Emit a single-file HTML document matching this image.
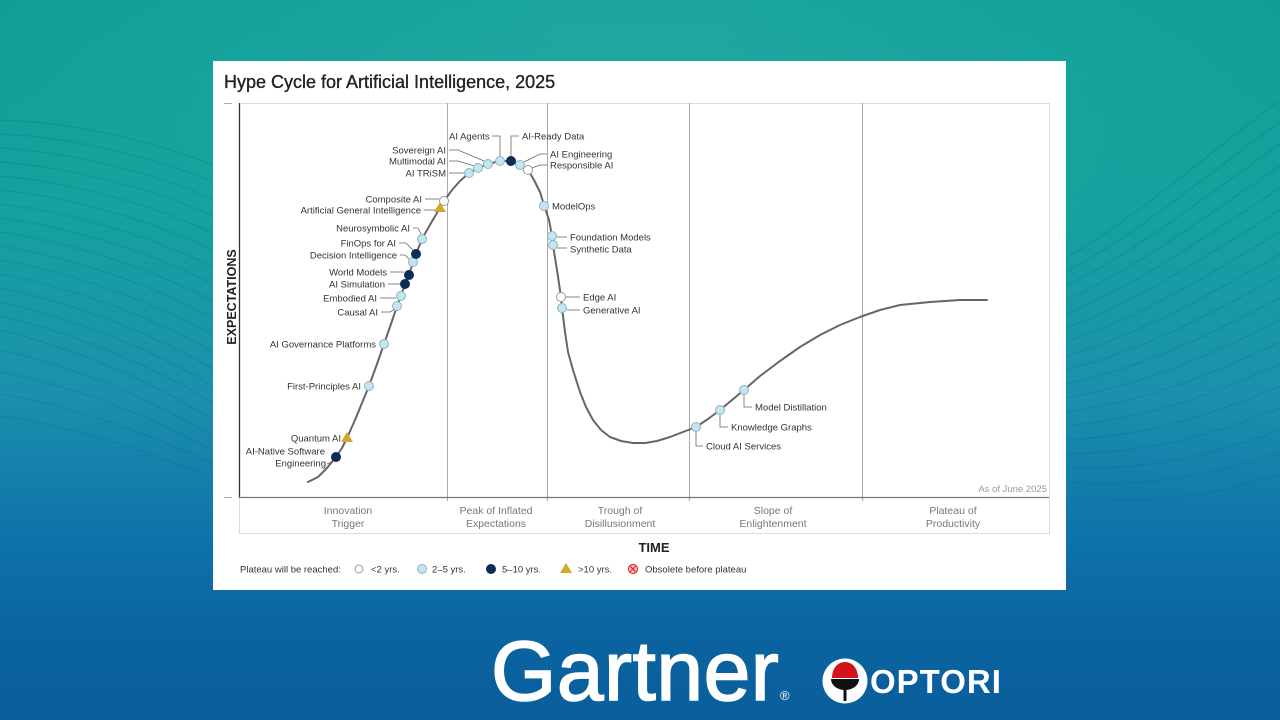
<!DOCTYPE html>
<html>
<head>
<meta charset="utf-8">
<style>
html,body{margin:0;padding:0;width:1280px;height:720px;overflow:hidden;}
svg{display:block;}
text{font-family:"Liberation Sans",Arial,sans-serif;}
.lb{font-size:9.5px;fill:#333;}
.ph{font-size:10.5px;fill:#777;}
.ld{fill:none;stroke:#666;stroke-width:0.8;}
.lt{fill:#c4e4ef;stroke:#8cb5c4;stroke-width:1;}
.dk{fill:#0c2d57;stroke:#0c2d57;stroke-width:1;}
.wh{fill:#fff;stroke:#9a9a9a;stroke-width:1;}
.tr{fill:#d6a62b;}
</style>
</head>
<body>
<svg width="1280" height="720" viewBox="0 0 1280 720" xmlns="http://www.w3.org/2000/svg">
<defs>
<linearGradient id="bg" x1="0" y1="0" x2="0" y2="1">
<stop offset="0" stop-color="#0c9d95"/>
<stop offset="0.3" stop-color="#14a29e"/>
<stop offset="0.55" stop-color="#1b90ad"/>
<stop offset="0.75" stop-color="#0f72aa"/>
<stop offset="0.88" stop-color="#0a64a0"/>
<stop offset="1" stop-color="#0a5e9c"/>
</linearGradient>
<radialGradient id="hl" cx="0.5" cy="0.1" r="0.6">
<stop offset="0" stop-color="#3fbab2" stop-opacity="0.35"/>
<stop offset="1" stop-color="#3fbab2" stop-opacity="0"/>
</radialGradient>
</defs>
<rect x="0" y="0" width="1280" height="720" fill="url(#bg)"/>
<rect x="0" y="0" width="1280" height="400" fill="url(#hl)"/>

<!-- background wave lines left -->
<g fill="none" stroke="#0a5a78" stroke-opacity="0.22" stroke-width="1.1">
<path d="M0,120 C70,122 150,140 213,165"/>
<path d="M0,134 C70,137 150,156 213,182"/>
<path d="M0,148 C70,152 150,172 213,199"/>
<path d="M0,162 C70,167 150,188 213,216"/>
<path d="M0,176 C70,182 150,204 213,233"/>
<path d="M0,190 C70,197 150,220 213,250"/>
<path d="M0,204 C70,212 150,236 213,267"/>
<path d="M0,218 C70,227 150,252 213,284"/>
<path d="M0,232 C70,242 150,268 213,301"/>
<path d="M0,246 C70,257 150,284 213,318"/>
<path d="M0,260 C70,272 150,300 213,335"/>
<path d="M0,274 C70,287 150,316 213,352"/>
<path d="M0,288 C70,302 150,332 213,369"/>
<path d="M0,302 C70,317 150,348 213,386"/>
<path d="M0,316 C70,332 150,364 213,403"/>
<path d="M0,330 C70,347 150,380 213,420"/>
<path d="M0,350 C70,365 150,398 213,436"/>
<path d="M0,372 C70,385 150,416 213,450"/>
<path d="M0,394 C70,405 150,434 213,464"/>
<path d="M0,416 C70,425 150,452 213,478"/>
</g>
<!-- background wave lines right -->
<g fill="none" stroke="#0a5a78" stroke-opacity="0.22" stroke-width="1.1">
<path d="M1066,258 C1140,215 1200,160 1280,100"/>
<path d="M1066,272 C1140,232 1200,180 1280,122"/>
<path d="M1066,286 C1140,249 1200,200 1280,144"/>
<path d="M1066,300 C1140,266 1200,220 1280,166"/>
<path d="M1066,314 C1140,283 1200,240 1280,188"/>
<path d="M1066,328 C1140,300 1200,260 1280,210"/>
<path d="M1066,342 C1140,317 1200,280 1280,232"/>
<path d="M1066,356 C1140,334 1200,300 1280,254"/>
<path d="M1066,370 C1140,351 1200,320 1280,276"/>
<path d="M1066,384 C1140,368 1200,340 1280,298"/>
<path d="M1066,398 C1140,385 1200,360 1280,320"/>
<path d="M1066,412 C1140,402 1200,380 1280,342"/>
<path d="M1066,426 C1140,419 1200,400 1280,364"/>
<path d="M1066,440 C1140,436 1200,420 1280,386"/>
<path d="M1066,454 C1140,453 1200,440 1280,408"/>
<path d="M1066,468 C1140,470 1200,460 1280,430"/>
<path d="M1066,482 C1140,487 1200,480 1280,452"/>
<path d="M1066,496 C1140,504 1200,500 1280,474"/>
</g>

<!-- card -->
<rect x="213" y="61" width="853" height="529" fill="#ffffff"/>

<!-- title -->
<text x="224" y="88" font-size="18" fill="#222" stroke="#222" stroke-width="0.35">Hype Cycle for Artificial Intelligence, 2025</text>

<!-- plot frame -->
<rect x="239.5" y="103.5" width="810" height="430" fill="none" stroke="#dcdcdc" stroke-width="1"/>
<g stroke="#a8a8a8" stroke-width="1">
<line x1="447.5" y1="103" x2="447.5" y2="501"/>
<line x1="547.5" y1="103" x2="547.5" y2="501"/>
<line x1="689.5" y1="103" x2="689.5" y2="501"/>
<line x1="862.5" y1="103" x2="862.5" y2="501"/>
</g>
<line x1="239.5" y1="103" x2="239.5" y2="498" stroke="#333" stroke-width="1.3"/>
<line x1="239" y1="497.5" x2="1049" y2="497.5" stroke="#777" stroke-width="1.3"/>
<line x1="224" y1="103.5" x2="232" y2="103.5" stroke="#aaa" stroke-width="1"/>
<line x1="224" y1="497.5" x2="232" y2="497.5" stroke="#aaa" stroke-width="1"/>

<!-- axis labels -->
<text x="0" y="0" font-size="12.5" font-weight="bold" fill="#222" text-anchor="middle" transform="translate(236,297) rotate(-90)">EXPECTATIONS</text>
<text x="654" y="552" font-size="13" font-weight="bold" fill="#222" text-anchor="middle">TIME</text>

<!-- phase labels -->
<g text-anchor="middle" class="ph">
<text class="ph" x="348" y="514">Innovation</text><text class="ph" x="348" y="527">Trigger</text>
<text class="ph" x="496" y="514">Peak of Inflated</text><text class="ph" x="496" y="527">Expectations</text>
<text class="ph" x="620" y="514">Trough of</text><text class="ph" x="620" y="527">Disillusionment</text>
<text class="ph" x="773" y="514">Slope of</text><text class="ph" x="773" y="527">Enlightenment</text>
<text class="ph" x="953" y="514">Plateau of</text><text class="ph" x="953" y="527">Productivity</text>
</g>
<text x="1047" y="492" font-size="9.5" fill="#999" text-anchor="end">As of June 2025</text>

<!-- curve -->
<polyline fill="none" stroke="#666" stroke-width="2" stroke-linejoin="round" stroke-linecap="round" points="
308,482 318,477 327,468 336,457 342,448 347,438 355,420 362,403 369,386 377,364 384,344 391,324 397,306 401,296 405,284 409,275 413,262 416,254 422,239 431,223 440,208 444,201 452,190 460,181 469,173 478,168 488,164 500,161 511,161 520,165 528,170 534,180 540,192 544,205 549,220 552,236 553,245 557,270 561,297 562,308 565,332 568,352 573,370 580,392 586,407 593,420 601,430 610,437 621,441 633,443 645,443 657,441 670,437 683,432 696,427 708,419 720,410 732,400 744,390 760,376 780,361 800,347 820,335 840,325 860,317 880,310 900,305 930,302 960,300 987,300"/>

<!-- leaders -->
<g class="ld">
<path d="M449,150 H458 L484,161"/>
<path d="M449,161 H458 L474,166"/>
<path d="M449,173 H464"/>
<path d="M492,136 H500 V156"/>
<path d="M519,136 H511 V156"/>
<path d="M547,154 H540 L524,162"/>
<path d="M547,165 H540 L532,168"/>
<path d="M557,237 H567"/>
<path d="M557,248 H567"/>
<path d="M566,297 H580"/>
<path d="M567,310 H580"/>
<path d="M425,199 H439"/>
<path d="M424,210 H435"/>
<path d="M413,228 H418 L421,234"/>
<path d="M399,243 H406 L413,250"/>
<path d="M400,255 H405 L409,259"/>
<path d="M390,272 H404"/>
<path d="M388,284 H400"/>
<path d="M380,298 H396"/>
<path d="M381,312 H390 L395,309"/>
<path d="M327,464 Q331,463 333,460"/>
<path d="M696,431 V446 H703"/>
<path d="M720,414 V427 H728"/>
<path d="M744,394 V407 H752"/>
</g>

<!-- markers -->
<g>
<circle class="dk" cx="336" cy="457" r="4.5"/>
<polygon class="tr" points="347,432 353,442 341,442"/>
<circle class="lt" cx="369" cy="386" r="4.5"/>
<circle class="lt" cx="384" cy="344" r="4.5"/>
<circle class="lt" cx="397" cy="306" r="4.5"/>
<circle class="lt" cx="401" cy="296" r="4.5"/>
<circle class="dk" cx="405" cy="284" r="4.5"/>
<circle class="dk" cx="409" cy="275" r="4.5"/>
<circle class="lt" cx="413" cy="262" r="4.5"/>
<circle class="dk" cx="416" cy="254" r="4.5"/>
<circle class="lt" cx="422" cy="239" r="4.5"/>
<polygon class="tr" points="440,202 446,212 434,212"/>
<circle class="wh" cx="444" cy="201" r="4.5"/>
<circle class="lt" cx="469" cy="173" r="4.5"/>
<circle class="lt" cx="478" cy="168" r="4.5"/>
<circle class="lt" cx="488" cy="164" r="4.5"/>
<circle class="lt" cx="500" cy="161" r="4.5"/>
<circle class="dk" cx="511" cy="161" r="4.5"/>
<circle class="lt" cx="520" cy="165" r="4.5"/>
<circle class="wh" cx="528" cy="170" r="4.5"/>
<circle class="lt" cx="544" cy="206" r="4.5"/>
<circle class="lt" cx="552" cy="236" r="4.5"/>
<circle class="lt" cx="553" cy="245" r="4.5"/>
<circle class="wh" cx="561" cy="297" r="4.5"/>
<circle class="lt" cx="562" cy="308" r="4.5"/>
<circle class="lt" cx="696" cy="427" r="4.5"/>
<circle class="lt" cx="720" cy="410" r="4.5"/>
<circle class="lt" cx="744" cy="390" r="4.5"/>
</g>

<!-- labels right-anchored -->
<g class="lb" text-anchor="end">
<text class="lb" x="446" y="153.5">Sovereign AI</text>
<text class="lb" x="446" y="164.5">Multimodal AI</text>
<text class="lb" x="446" y="176.5">AI TRiSM</text>
<text class="lb" x="422" y="202.5">Composite AI</text>
<text class="lb" x="421" y="213.5">Artificial General Intelligence</text>
<text class="lb" x="410" y="231.5">Neurosymbolic AI</text>
<text class="lb" x="396" y="246.5">FinOps for AI</text>
<text class="lb" x="397" y="258.5">Decision Intelligence</text>
<text class="lb" x="387" y="275.5">World Models</text>
<text class="lb" x="385" y="287.5">AI Simulation</text>
<text class="lb" x="377" y="301.5">Embodied AI</text>
<text class="lb" x="378" y="315.5">Causal AI</text>
<text class="lb" x="376" y="347.5">AI Governance Platforms</text>
<text class="lb" x="361" y="389.5">First-Principles AI</text>
<text class="lb" x="341" y="441.5">Quantum AI</text>
<text class="lb" x="325" y="454.5">AI-Native Software</text>
<text class="lb" x="326" y="466.5">Engineering</text>
</g>
<!-- labels left-anchored -->
<g class="lb">
<text class="lb" x="449" y="139.5">AI Agents</text>
<text class="lb" x="522" y="139.5">AI-Ready Data</text>
<text class="lb" x="550" y="157.5">AI Engineering</text>
<text class="lb" x="550" y="168.5">Responsible AI</text>
<text class="lb" x="552" y="209.5">ModelOps</text>
<text class="lb" x="570" y="240.5">Foundation Models</text>
<text class="lb" x="570" y="252.5">Synthetic Data</text>
<text class="lb" x="583" y="300.5">Edge AI</text>
<text class="lb" x="583" y="313.5">Generative AI</text>
<text class="lb" x="706" y="449.5">Cloud AI Services</text>
<text class="lb" x="731" y="430.5">Knowledge Graphs</text>
<text class="lb" x="755" y="410.5">Model Distillation</text>
</g>

<!-- legend -->
<g>
<text class="lb" x="240" y="572.5">Plateau will be reached:</text>
<circle class="wh" cx="359" cy="569" r="4"/>
<text class="lb" x="371" y="572.5">&lt;2 yrs.</text>
<circle class="lt" cx="422" cy="569" r="4.5"/>
<text class="lb" x="432" y="572.5">2–5 yrs.</text>
<circle class="dk" cx="491" cy="569" r="4.5"/>
<text class="lb" x="502" y="572.5">5–10 yrs.</text>
<polygon class="tr" points="566,563 572,573 560,573"/>
<text class="lb" x="578" y="572.5">&gt;10 yrs.</text>
<circle cx="633" cy="569" r="4.5" fill="#fbd3d3" stroke="#e03030" stroke-width="1.2"/>
<path d="M630.5,566.5 L635.5,571.5 M635.5,566.5 L630.5,571.5" stroke="#e03030" stroke-width="1.4"/>
<text class="lb" x="645" y="572.5">Obsolete before plateau</text>
</g>

<!-- Gartner logo -->
<text x="491" y="700" font-size="84" fill="#fff" stroke="#fff" stroke-width="1.6" letter-spacing="0.5">Gartner</text>
<text x="780" y="700" font-size="13" fill="#fff">®</text>

<!-- OPTORI logo -->
<circle cx="845" cy="681" r="22.5" fill="#fff"/>
<path d="M832,678 C832,668 838,662 845,662 C852,662 858,668 858,678 Z" fill="#d3121e"/>
<path d="M831,679 H859 C859,685 853,690 845,690 C837,690 831,685 831,679 Z" fill="#111"/>
<rect x="843.5" y="688" width="3" height="13" fill="#111"/>
<text x="870" y="693" font-size="33" font-weight="bold" fill="#fff" letter-spacing="1">OPTORI</text>
</svg>
</body>
</html>
